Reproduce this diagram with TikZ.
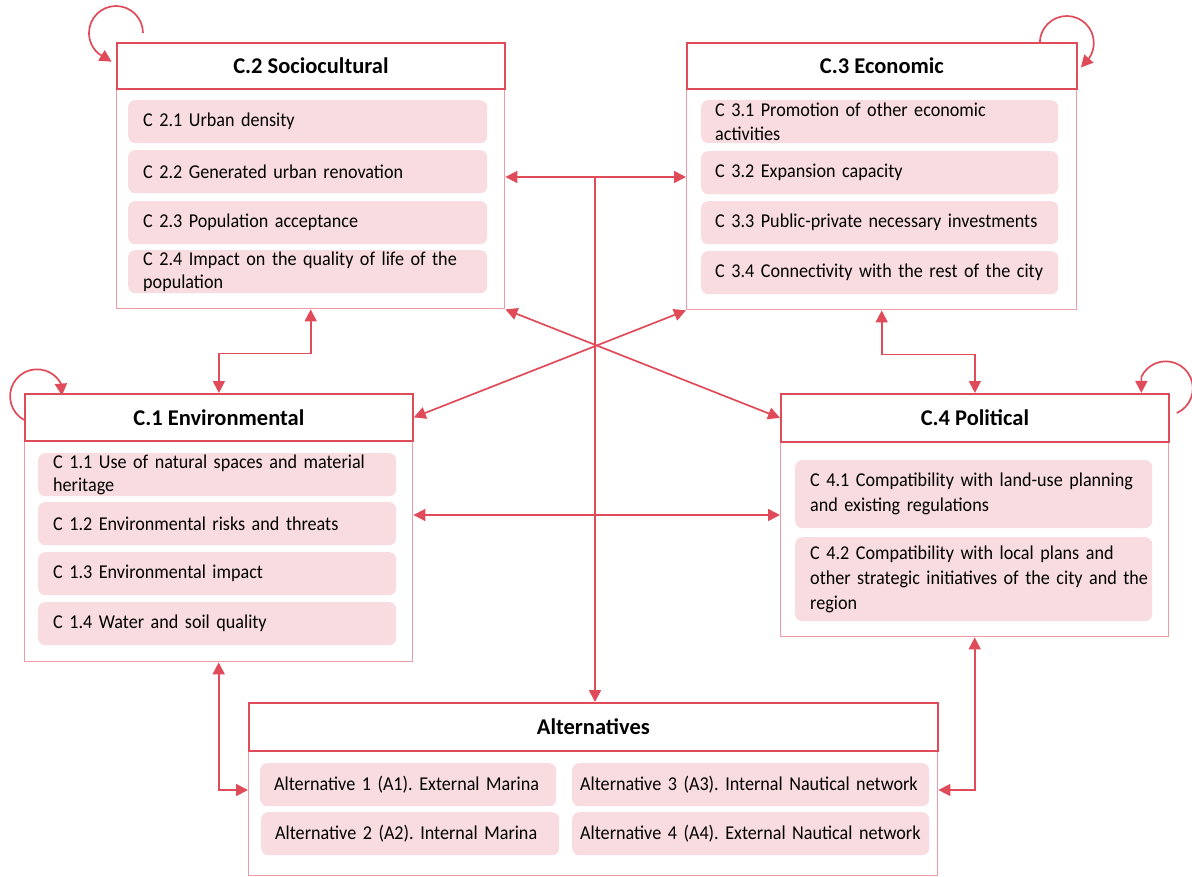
\documentclass[tikz,border=0pt]{standalone}
\usepackage{fontspec}
\setmainfont{Carlito}[FakeStretch=0.925,WordSpace=0.75]
\newfontfamily\hdrfont{Carlito}
\usetikzlibrary{arrows.meta,calc}
\definecolor{lr}{HTML}{E04B5A}
\definecolor{lb}{HTML}{EE9BA3}
\definecolor{pk}{HTML}{F8DCE0}
\frenchspacing
\newcommand\mb[1]{\mbox{#1}}
\begin{document}
\begin{tikzpicture}[x=1pt,y=-1pt,
  hdr/.style={draw=lr,line width=1.8pt,fill=white,anchor=north west,inner sep=0pt,
    font=\hdrfont\fontsize{22.5}{25}\selectfont\bfseries},
  bodybox/.style={draw=lb,line width=1.4pt,fill=white,anchor=north west,inner sep=0pt},
  item/.style={fill=pk,rounded corners=7pt,anchor=north west,inner xsep=15pt,inner ysep=0pt,
    align=left,font=\fontsize{19.6}{23.5}\selectfont},
  tip/.style={-{Triangle[length=12pt,width=12pt]}},
  arr/.style={draw=lr,line width=1.7pt,tip},
  darr/.style={draw=lr,line width=1.7pt,{Triangle[length=12pt,width=12pt]}-{Triangle[length=12pt,width=12pt]}}
]
\useasboundingbox (0,0) rectangle (1192,876);

% ---------- bodies ----------
\node[bodybox,minimum width=388pt,minimum height=220pt] (c2b) at (116,88) {};
\node[bodybox,minimum width=390pt,minimum height=221pt] (c3b) at (686,88) {};
\node[bodybox,minimum width=388pt,minimum height=221pt] (c1b) at (24,440) {};
\node[bodybox,minimum width=388pt,minimum height=195pt] (c4b) at (780,441) {};
\node[bodybox,minimum width=689pt,minimum height=125pt] (altb) at (248,750) {};

% ---------- headers ----------
\node[hdr,minimum width=388pt,minimum height=46pt] (c2h) at (116,42) {C.2 Sociocultural};
\node[hdr,minimum width=390pt,minimum height=46pt] (c3h) at (686,42) {C.3 Economic};
\node[hdr,minimum width=388pt,minimum height=47pt] (c1h) at (24,393) {C.1 Environmental};
\node[hdr,minimum width=388pt,minimum height=48pt] (c4h) at (780,393) {C.4 Political};
\node[hdr,minimum width=689pt,minimum height=48pt] (alth) at (248,702) {Alternatives};

% ---------- C.2 items ----------
\node[item,text width=329pt,minimum height=43pt] (c21) at (128,100) {\mb{C 2.1 Urban density}};
\node[item,text width=329pt,minimum height=43pt] (c22) at (128,150) {\mb{C 2.2 Generated urban renovation}};
\node[item,text width=329pt,minimum height=43pt] (c23) at (128,201) {\mb{C 2.3 Population acceptance}};
\node[item,text width=329pt,minimum height=43pt] (c24) at (128,250) {\mb{C 2.4 Impact on the quality of life of the}\\\mb{population}};

% ---------- C.3 items ----------
\node[item,text width=329pt,minimum height=43pt,inner xsep=14pt] (c31) at (701,100) {\mb{C 3.1 Promotion of other economic}\\\mb{activities}};
\node[item,text width=329pt,minimum height=43pt,inner xsep=14pt] (c32) at (701,151) {\mb{C 3.2 Expansion capacity}};
\node[item,text width=329pt,minimum height=43pt,inner xsep=14pt] (c33) at (701,201) {\mb{C 3.3 Public-private necessary investments}};
\node[item,text width=329pt,minimum height=43pt,inner xsep=14pt] (c34) at (701,251) {\mb{C 3.4 Connectivity with the rest of the city}};

% ---------- C.1 items ----------
\node[item,text width=328pt,minimum height=43pt] (c11) at (38,453) {\mb{C 1.1 Use of natural spaces and material}\\\mb{heritage}};
\node[item,text width=328pt,minimum height=43pt] (c12) at (38,502) {\mb{C 1.2 Environmental risks and threats}};
\node[item,text width=328pt,minimum height=43pt] (c13) at (38,552) {\mb{C 1.3 Environmental impact}};
\node[item,text width=328pt,minimum height=43pt] (c14) at (38,602) {\mb{C 1.4 Water and soil quality}};

% ---------- C.4 items ----------
\node[item,text width=327pt,minimum height=68pt,font=\fontsize{19.6}{25}\selectfont] (c41) at (795,460) {\mb{C 4.1 Compatibility with land-use planning}\\\mb{and existing regulations}};
\node[item,text width=327pt,minimum height=84pt,font=\fontsize{19.6}{25}\selectfont] (c42) at (795,537) {\mb{C 4.2 Compatibility with local plans and}\\\mb{other strategic initiatives of the city and the}\\\mb{region}};

% ---------- Alternatives items ----------
\node[item,text width=268pt,minimum height=43pt,inner xsep=14pt] (a1) at (260,763) {\mb{Alternative 1 (A1). External Marina}};
\node[item,text width=270pt,minimum height=43pt,inner xsep=14pt] (a2) at (261,812) {\mb{Alternative 2 (A2). Internal Marina}};
\node[item,text width=341pt,minimum height=43pt,inner xsep=8pt] (a3) at (572,763) {\mb{Alternative 3 (A3). Internal Nautical network}};
\node[item,text width=341pt,minimum height=43pt,inner xsep=8pt] (a4) at (572,812) {\mb{Alternative 4 (A4). External Nautical network}};

% ---------- connectors ----------
\coordinate (j) at (595,177);
\coordinate (m) at (0,515);
\coordinate (r) at (0,790);
\draw[darr] (c2b.east |- j) -- (c3b.west |- j);
\draw[arr] (j) -- (j |- alth.north);
\draw[darr] (c2b.south east) -- (c4h.west);
\draw[darr] (c3b.south west) -- (c1h.east);
\draw[darr] (c2b.south) -- ++(0,44) -| (c1h.north);
\draw[darr] (c3b.south) -- ++(0,44) -| (c4h.north);
\draw[darr] (c1b.east |- m) -- (c4b.west |- m);
\draw[darr] (c1b.south) |- (altb.west |- r);
\draw[darr] (c4b.south) |- (altb.east |- r);

% ---------- self loops ----------
\draw[arr] ([xshift=27pt,yshift=9pt]c2h.north west) arc[start angle=0,end angle=-230,radius=27] -- ++(13,8);
\draw[arr] ([yshift=-2.5pt]c1h.west) arc[start angle=119,end angle=332,radius=27] -- ++(1,12);
\draw[arr] ([xshift=-38pt,yshift=-1pt]c3h.north east) arc[start angle=180,end angle=395,radius=27] -- ++(-8,9);
\draw[arr] ([xshift=7pt,yshift=-20pt]c4h.north east) arc[start angle=66,end angle=-155,radius=27] -- ++(0,16);
\end{tikzpicture}
\end{document}
